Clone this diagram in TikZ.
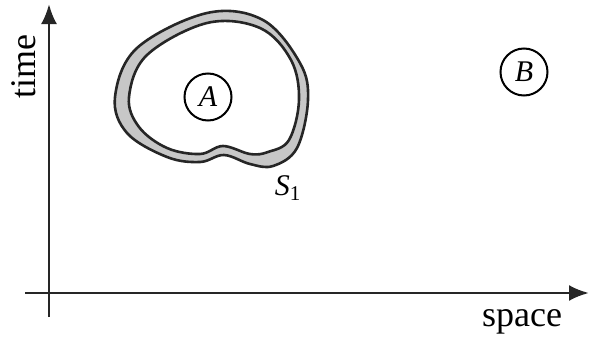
\documentclass[tikz,border=0pt]{standalone}
\usepackage{fontspec}
\setmainfont{Liberation Serif}
\usetikzlibrary{arrows.meta}

\begin{document}
\begin{tikzpicture}[
        x=0.5pt, y=-0.5pt,
        axis/.style={line width=1.4pt, draw=black!85, -{Latex[length=10pt, width=8pt]}},
        axislabel/.style={font=\fontsize{18}{20}\selectfont},
        eventnode/.style={draw, circle, line width=1pt, minimum size=23.5pt, inner sep=0pt, font=\fontsize{15}{17}\selectfont\itshape},
        shell/.style={line width=1.3pt, draw=black!85}
    ]
    \useasboundingbox (0,0) rectangle (590,337);
    \coordinate (tbot) at (49,317);
    \coordinate (ttop) at (49,4);
    \coordinate (sleft) at (25,293);
    \coordinate (sright) at (589,293);
    \draw[axis] (tbot) -- (ttop);
    \draw[axis] (sleft) -- (sright);
    \node[axislabel, rotate=90] (time) at (24,67) {time};
    \node[axislabel] (space) at (522,322) {space};
    % the region and its boundary layer
    \draw[shell, fill=black!22] plot[smooth cycle, tension=0.6] coordinates {
        (115,97) (127,133) (167,157) (200,162) (224,155) (250,164) (273,166)
        (297,148) (308,100) (300,63) (263,20) (207,13) (137,48)};
    \draw[shell, fill=white] plot[smooth cycle, tension=0.6] coordinates {
        (129,97) (139,127) (167,148) (200,154) (223,146) (250,154) (268,152)
        (289,140) (299,100) (291,60) (260,28) (207,23) (147,55)};
    \node[axislabel, font=\fontsize{15}{17}\selectfont] (s1) at (288,188) {\textit{S}\textsubscript{1}};
    \node[eventnode] (a) at (208,97) {A};
    \node[eventnode] (b) at (524,72) {B};
\end{tikzpicture}
\end{document}
